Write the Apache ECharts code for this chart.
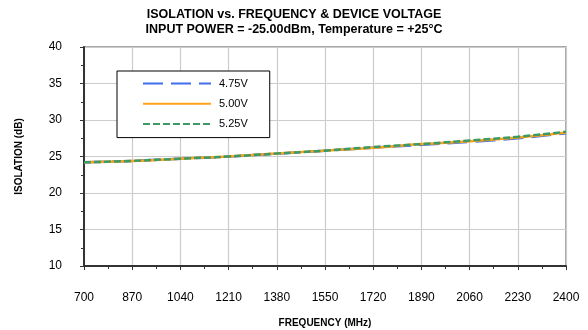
<!DOCTYPE html>
<html>
<head>
<meta charset="utf-8">
<script src="https://cdn.jsdelivr.net/npm/echarts@6/dist/echarts.min.js"></script>
<style>
  html, body { margin: 0; padding: 0; background: #fff; }
  #chart { width: 588px; height: 330px; }
</style>
</head>
<body>
<div id="chart"></div>
<script>
// frequency points (MHz)
const freqs = [700, 870, 1040, 1210, 1380, 1550, 1720, 1890, 2060, 2230, 2400]
// isolation (dB) per supply voltage
const iso475 = [24.2, 24.4, 24.7, 25.0, 25.4, 25.8, 26.2, 26.6, 27.0, 27.5, 28.2]
const iso500 = [24.2, 24.4, 24.7, 25.0, 25.4, 25.8, 26.2, 26.7, 27.1, 27.6, 28.3]
const iso525 = [24.2, 24.4, 24.7, 25.0, 25.4, 25.8, 26.3, 26.7, 27.2, 27.7, 28.4]
const seriesNames = ['4.75V', '5.00V', '5.25V']

const font = 'Liberation Sans, Arial, sans-serif'
const toPairs = (ys) => freqs.map((f, i) => [f, ys[i]])

const chart = echarts.init(document.getElementById('chart'))
chart.setOption({
  animation: false,
  title: {
    text: 'ISOLATION vs. FREQUENCY & DEVICE VOLTAGE\nINPUT POWER = -25.00dBm, Temperature = +25°C',
    left: 'center',
    top: 2,
    textStyle: { fontFamily: font, fontSize: 12.5, fontWeight: 'bold', color: '#000', lineHeight: 15 }
  },
  legend: {
    orient: 'vertical',
    left: 117,
    top: 71,
    padding: [7, 22, 8, 25],
    itemWidth: 68,
    itemHeight: 14,
    itemGap: 9,
    borderColor: '#000',
    borderWidth: 1,
    backgroundColor: '#fff',
    itemStyle: { opacity: 0 },
    textStyle: { fontFamily: font, fontSize: 11, color: '#000', padding: [0, 0, 0, 3] },
    data: seriesNames
  },
  grid: {
    left: 84,
    right: 22,
    top: 47,
    bottom: 64,
    containLabel: false,
    outerBoundsMode: 'none',
    show: true,
    borderColor: '#8c8c8c',
    borderWidth: 1.5
  },
  xAxis: {
    type: 'value',
    min: 700,
    max: 2400,
    interval: 170,
    name: 'FREQUENCY (MHz)',
    nameLocation: 'middle',
    nameGap: 52,
    nameTextStyle: { fontFamily: font, fontSize: 10, fontWeight: 'bold', color: '#000' },
    axisLine: { lineStyle: { color: '#333', width: 2 } },
    axisTick: { length: 4, lineStyle: { color: '#333' } },
    minorTick: { show: true, splitNumber: 2, length: 3, lineStyle: { color: '#333' } },
    axisLabel: { fontFamily: font, fontSize: 12, color: '#000', margin: 26, formatter: (v) => String(v) },
    splitLine: { lineStyle: { color: '#cccccc', width: 1.2 } }
  },
  yAxis: {
    type: 'value',
    min: 10,
    max: 40,
    interval: 5,
    name: 'ISOLATION (dB)',
    nameLocation: 'middle',
    nameGap: 60,
    nameTextStyle: { fontFamily: font, fontSize: 10, fontWeight: 'bold', color: '#000' },
    axisLine: { show: true, lineStyle: { color: '#333', width: 2 } },
    axisTick: { show: true, length: 4, lineStyle: { color: '#333' } },
    minorTick: { show: true, splitNumber: 2, length: 3, lineStyle: { color: '#333' } },
    axisLabel: { fontFamily: font, fontSize: 12, color: '#000', margin: 22 },
    splitLine: { lineStyle: { color: '#cccccc', width: 1.2 } }
  },
  series: [
    {
      name: seriesNames[0], type: 'line', smooth: true, symbol: 'none',
      data: toPairs(iso475),
      lineStyle: { color: '#3f6ee8', width: 2.5, type: [20, 8] },
      itemStyle: { color: '#3f6ee8' }
    },
    {
      name: seriesNames[1], type: 'line', smooth: true, symbol: 'none',
      data: toPairs(iso500),
      lineStyle: { color: '#ffa31a', width: 2.5, type: 'solid' },
      itemStyle: { color: '#ffa31a' }
    },
    {
      name: seriesNames[2], type: 'line', smooth: true, symbol: 'none',
      data: toPairs(iso525),
      lineStyle: { color: '#3c9a64', width: 2.5, type: [7, 3] },
      itemStyle: { color: '#3c9a64' }
    }
  ]
})
</script>
</body>
</html>
